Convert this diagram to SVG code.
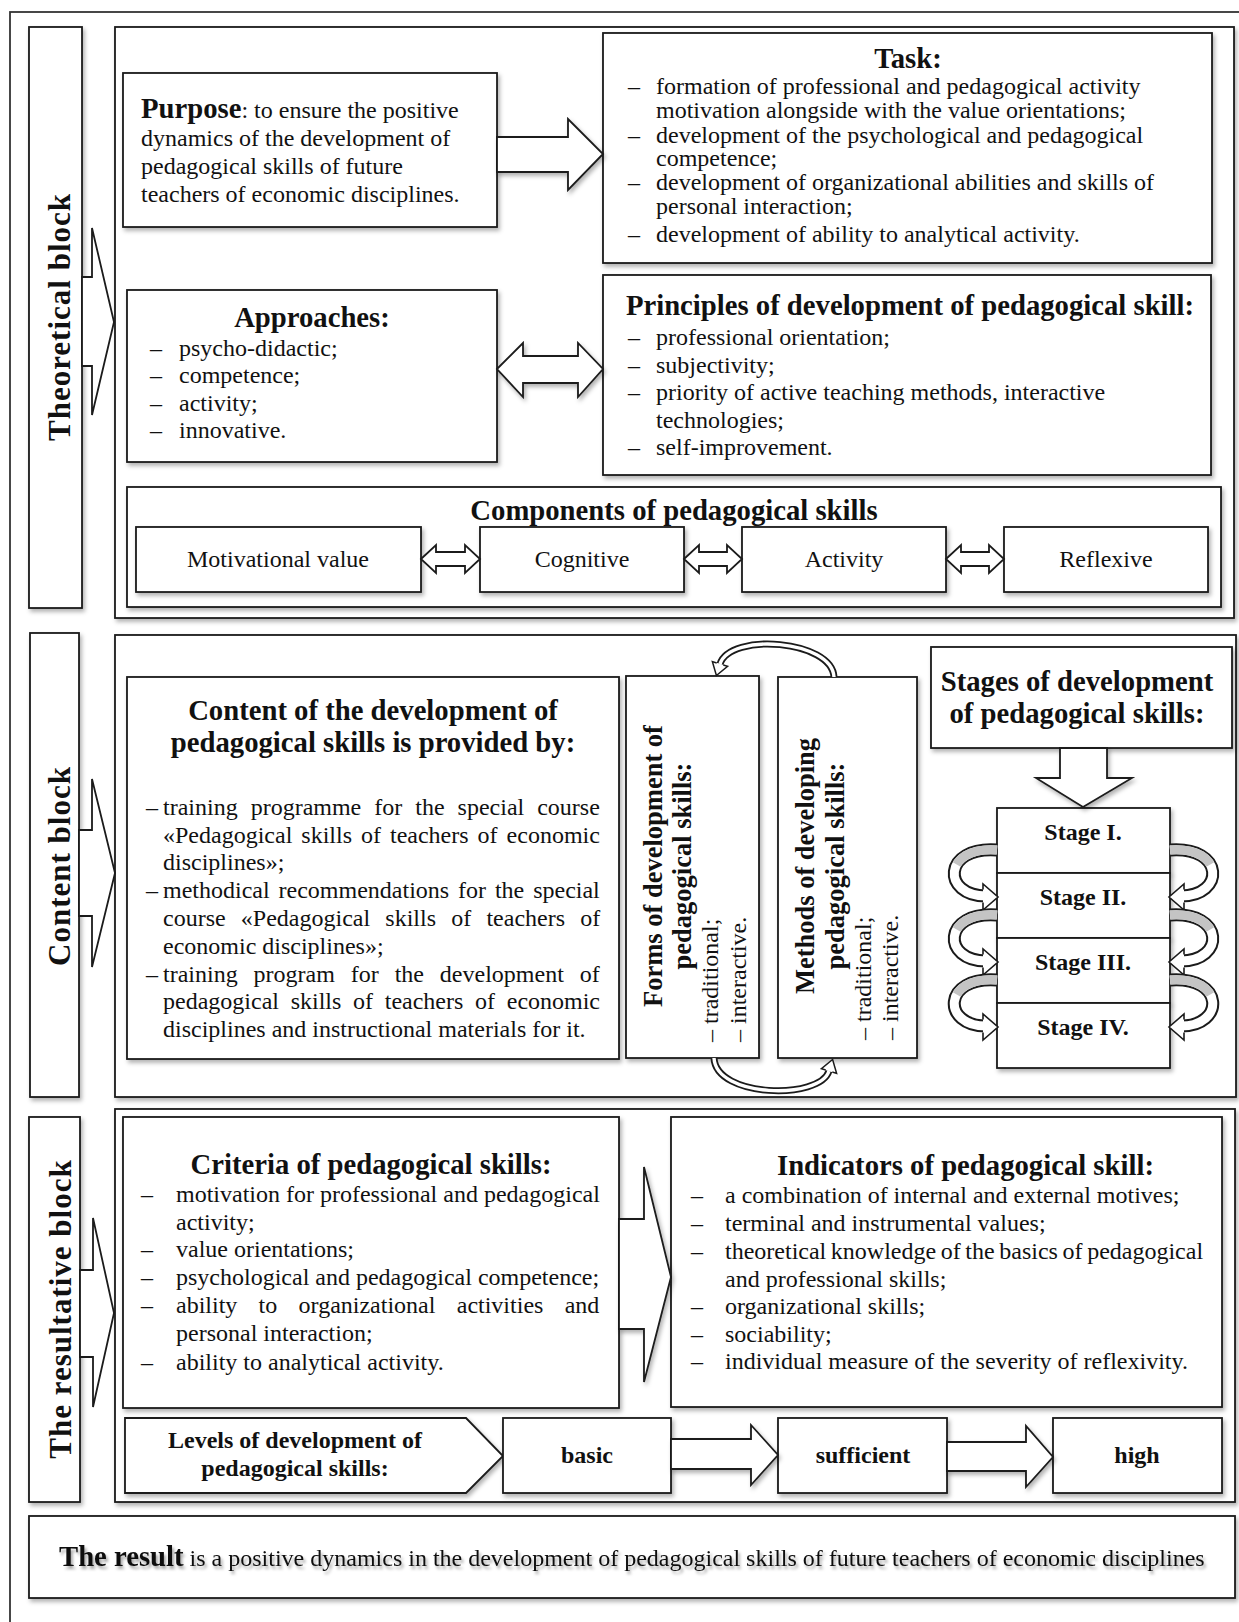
<svg xmlns="http://www.w3.org/2000/svg" width="1239" height="1622" viewBox="0 0 1239 1622">
<defs>
<filter id="ds" x="-10%" y="-10%" width="130%" height="130%"><feDropShadow dx="2" dy="3" stdDeviation="2" flood-color="#000" flood-opacity="0.3"/></filter>
<filter id="ts" x="-5%" y="-30%" width="110%" height="170%"><feDropShadow dx="2" dy="3" stdDeviation="1.6" flood-color="#000" flood-opacity="0.35"/></filter>
<g id="carrow">
<path d="M 997 6 C 942 2 942 52 986 52" fill="none" stroke="#1b1b1b" stroke-width="13"/>
<path d="M 997 6 C 942 2 942 52 986 52" fill="none" stroke="#fff" stroke-width="9"/>
<path d="M 997 6 C 975 4.4 961.8 11.44 956.7 20.46" fill="none" stroke="#c4c4c4" stroke-width="9"/>
<path d="M 983 45.5 L 983 40 L 998 53 L 983 66 L 983 58.5" fill="#fff" stroke="#1b1b1b" stroke-width="1.6" stroke-linejoin="miter"/>
</g>
</defs>
<style>
.b { fill:#fff; stroke:#1b1b1b; stroke-width:1.8; }
.sh { filter:url(#ds); }
text { font-family:"Liberation Serif","Times New Roman",serif; fill:#111; font-size:24px; }
.h { font-size:28.7px; font-weight:bold; }
.hb { font-weight:bold; }
.lab { font-size:31px; font-weight:bold; letter-spacing:1px; }
.vh { font-size:26.5px; font-weight:bold; }
.c { text-anchor:middle; }
</style>
<rect x="0" y="0" width="1239" height="1622" fill="#fff"/>
<rect x="10" y="12" width="1250" height="1640" fill="none" stroke="#333" stroke-width="1.8"/>

<!-- Theoretical block -->
<g id="theoretical-label">
<rect class="b sh" x="29" y="27" width="53" height="581"/>
<text class="lab c" transform="translate(70,317) rotate(-90)">Theoretical block</text>
</g>
<g id="theoretical-container"><rect class="b sh" x="115" y="27" width="1119" height="591"/></g>

<g id="purpose">
<rect class="b sh" x="123" y="73" width="374" height="154"/>
<text x="141" y="118"><tspan class="h">Purpose</tspan>: to ensure the positive</text>
<text x="141" y="146">dynamics of the development of</text>
<text x="141" y="174">pedagogical skills of future</text>
<text x="141" y="202">teachers of economic disciplines.</text>
</g>

<g id="task">
<rect class="b sh" x="603" y="33" width="609" height="230"/>
<text class="h c" x="908" y="68">Task:</text>
<text><tspan x="628" y="94">–</tspan><tspan x="656" y="94">formation of professional and pedagogical activity</tspan></text>
<text x="656" y="118">motivation alongside with the value orientations;</text>
<text><tspan x="628" y="142.5">–</tspan><tspan x="656" y="142.5">development of the psychological and pedagogical</tspan></text>
<text x="656" y="166">competence;</text>
<text><tspan x="628" y="190">–</tspan><tspan x="656" y="190">development of organizational abilities and skills of</tspan></text>
<text x="656" y="214">personal interaction;</text>
<text><tspan x="628" y="242">–</tspan><tspan x="656" y="242">development of ability to analytical activity.</tspan></text>
</g>

<g id="approaches">
<rect class="b sh" x="127" y="290" width="370" height="172"/>
<text class="h c" x="312" y="327">Approaches:</text>
<text><tspan x="150" y="356">–</tspan><tspan x="179" y="356">psycho-didactic;</tspan></text>
<text><tspan x="150" y="383">–</tspan><tspan x="179" y="383">competence;</tspan></text>
<text><tspan x="150" y="411">–</tspan><tspan x="179" y="411">activity;</tspan></text>
<text><tspan x="150" y="438">–</tspan><tspan x="179" y="438">innovative.</tspan></text>
</g>

<g id="principles">
<rect class="b sh" x="603" y="275" width="608" height="200"/>
<text class="h c" x="910" y="315">Principles of development of pedagogical skill:</text>
<text><tspan x="628" y="345">–</tspan><tspan x="656" y="345">professional orientation;</tspan></text>
<text><tspan x="628" y="373">–</tspan><tspan x="656" y="373">subjectivity;</tspan></text>
<text><tspan x="628" y="400">–</tspan><tspan x="656" y="400">priority of active teaching methods, interactive</tspan></text>
<text x="656" y="428">technologies;</text>
<text><tspan x="628" y="455">–</tspan><tspan x="656" y="455">self-improvement.</tspan></text>
</g>

<g id="components">
<rect class="b sh" x="127" y="487" width="1094" height="120"/>
<text class="h c" x="674" y="520">Components of pedagogical skills</text>
</g>
<g id="comp-motivational"><rect class="b sh" x="136" y="527" width="285" height="65"/><text class="c" x="278" y="567">Motivational value</text></g>
<g id="comp-cognitive"><rect class="b sh" x="480" y="527" width="204" height="65"/><text class="c" x="582" y="567">Cognitive</text></g>
<g id="comp-activity"><rect class="b sh" x="742" y="527" width="204" height="65"/><text class="c" x="844" y="567">Activity</text></g>
<g id="comp-reflexive"><rect class="b sh" x="1004" y="527" width="204" height="65"/><text class="c" x="1106" y="567">Reflexive</text></g>

<!-- Content block -->
<g id="content-label">
<rect class="b sh" x="30" y="633" width="49" height="464"/>
<text class="lab c" transform="translate(70,866) rotate(-90)">Content block</text>
</g>
<g id="content-container"><rect class="b sh" x="115" y="635" width="1121" height="462"/></g>

<g id="content-provided">
<rect class="b sh" x="127" y="677" width="492" height="382"/>
<text class="h c" x="373" y="720">Content of the development of</text>
<text class="h c" x="373" y="752">pedagogical skills is provided by:</text>
<text><tspan x="146" y="815">–</tspan><tspan x="163" y="815" style="word-spacing:7px">training programme for the special course</tspan></text>
<text x="163" y="843" style="word-spacing:3px">«Pedagogical skills of teachers of economic</text>
<text x="163" y="870">disciplines»;</text>
<text><tspan x="146" y="898">–</tspan><tspan x="163" y="898" style="word-spacing:2.9px">methodical recommendations for the special</tspan></text>
<text x="163" y="926" style="word-spacing:9.2px">course «Pedagogical skills of teachers of</text>
<text x="163" y="954">economic disciplines»;</text>
<text><tspan x="146" y="982">–</tspan><tspan x="163" y="982" style="word-spacing:9.9px">training program for the development of</tspan></text>
<text x="163" y="1009" style="word-spacing:5.7px">pedagogical skills of teachers of economic</text>
<text x="163" y="1037">disciplines and instructional materials for it.</text>
</g>

<g id="forms">
<rect class="b sh" x="626" y="676" width="133" height="382"/>
<g transform="translate(0,866) rotate(-90)">
<text class="vh c" x="0" y="662">Forms of development of</text>
<text class="vh c" x="0" y="691">pedagogical skills:</text>
<text x="-176" y="718">– traditional;</text>
<text x="-176" y="746">– interactive.</text>
</g>
</g>

<g id="methods">
<rect class="b sh" x="778" y="677" width="139" height="381"/>
<g transform="translate(0,866) rotate(-90)">
<text class="vh c" x="0" y="814">Methods of developing</text>
<text class="vh c" x="0" y="844">pedagogical skills:</text>
<text x="-174" y="871">– traditional;</text>
<text x="-174" y="898">– interactive.</text>
</g>
</g>

<g id="stages-title">
<rect class="b sh" x="931" y="647" width="301" height="101"/>
<text class="h c" x="1077" y="691">Stages of development</text>
<text class="h c" x="1077" y="723">of pedagogical skills:</text>
</g>
<g id="stage-1"><rect class="b sh" x="997" y="808" width="173" height="65"/><text class="hb c" x="1083" y="840">Stage I.</text></g>
<g id="stage-2"><rect class="b sh" x="997" y="873" width="173" height="65"/><text class="hb c" x="1083" y="905">Stage II.</text></g>
<g id="stage-3"><rect class="b sh" x="997" y="938" width="173" height="65"/><text class="hb c" x="1083" y="970">Stage III.</text></g>
<g id="stage-4"><rect class="b sh" x="997" y="1003" width="173" height="65"/><text class="hb c" x="1083" y="1035">Stage IV.</text></g>

<!-- Resultative block -->
<g id="resultative-label">
<rect class="b sh" x="29" y="1117" width="51" height="385"/>
<text class="lab c" transform="translate(71,1309) rotate(-90)">The resultative block</text>
</g>
<g id="resultative-container"><rect class="b sh" x="115" y="1109" width="1120" height="393"/></g>

<g id="criteria">
<rect class="b sh" x="123" y="1117" width="496" height="291"/>
<text class="h c" x="371" y="1174">Criteria of pedagogical skills:</text>
<text><tspan x="141" y="1202">–</tspan><tspan x="176" y="1202">motivation for professional and pedagogical</tspan></text>
<text x="176" y="1230">activity;</text>
<text><tspan x="141" y="1257">–</tspan><tspan x="176" y="1257">value orientations;</tspan></text>
<text><tspan x="141" y="1285">–</tspan><tspan x="176" y="1285">psychological and pedagogical competence;</tspan></text>
<text><tspan x="141" y="1313">–</tspan><tspan x="176" y="1313" style="word-spacing:15.3px">ability to organizational activities and</tspan></text>
<text x="176" y="1341">personal interaction;</text>
<text><tspan x="141" y="1370">–</tspan><tspan x="176" y="1370">ability to analytical activity.</tspan></text>
</g>

<g id="indicators">
<rect class="b sh" x="671" y="1117" width="551" height="290"/>
<text class="h" x="777" y="1175">Indicators of pedagogical skill:</text>
<text><tspan x="691" y="1203">–</tspan><tspan x="725" y="1203">a combination of internal and external motives;</tspan></text>
<text><tspan x="691" y="1231">–</tspan><tspan x="725" y="1231">terminal and instrumental values;</tspan></text>
<text><tspan x="691" y="1259">–</tspan><tspan x="725" y="1259" style="word-spacing:-1.4px">theoretical knowledge of the basics of pedagogical</tspan></text>
<text x="725" y="1287">and professional skills;</text>
<text><tspan x="691" y="1314">–</tspan><tspan x="725" y="1314">organizational skills;</tspan></text>
<text><tspan x="691" y="1342">–</tspan><tspan x="725" y="1342">sociability;</tspan></text>
<text><tspan x="691" y="1369">–</tspan><tspan x="725" y="1369">individual measure of the severity of reflexivity.</tspan></text>
</g>

<g id="levels">
<polygon class="b sh" points="125,1418 466,1418 503,1456 466,1493 125,1493"/>
<text class="hb c" x="295" y="1448">Levels of development of</text>
<text class="hb c" x="295" y="1476">pedagogical skills:</text>
</g>
<g id="level-basic"><rect class="b sh" x="503" y="1418" width="168" height="75"/><text class="hb c" x="587" y="1463">basic</text></g>
<g id="level-sufficient"><rect class="b sh" x="778" y="1418" width="169" height="75"/><text class="hb c" x="863" y="1463">sufficient</text></g>
<g id="level-high"><rect class="b sh" x="1053" y="1418" width="169" height="75"/><text class="hb c" x="1137" y="1463">high</text></g>

<g id="result">
<rect class="b sh" x="29" y="1516" width="1206" height="82"/>
<text x="59" y="1566" filter="url(#ts)"><tspan class="h">The result</tspan> is a positive dynamics in the development of pedagogical skills of future teachers of economic disciplines</text>
</g>

<!-- Connectors -->
<g id="connectors">
<polygon class="b" points="82,277 92,277 92,228 114,322 92,415 92,366 82,366"/>
<polygon class="b" points="79,830 92,830 92,779 115,873 92,967 92,916 79,916"/>
<polygon class="b" points="80,1270 93,1270 93,1218 114,1313 93,1407 93,1357 80,1357"/>
<polygon class="b sh" points="497,137 568,137 568,119 603,154 568,190 568,172 497,172"/>
<polygon class="b sh" points="497,369 523,343 523,356 578,356 578,343 603,369 578,397 578,383 523,383 523,397"/>
<polygon class="b" points="421,559 436,545 436,552 465,552 465,545 480,559 465,573 465,566 436,566 436,573"/>
<polygon class="b" points="684,559 699,545 699,552 727,552 727,545 742,559 727,573 727,566 699,566 699,573"/>
<polygon class="b" points="946,559 961,545 961,552 989,552 989,545 1004,559 989,573 989,566 961,566 961,573"/>
<polygon class="b sh" points="619,1219 644,1219 644,1167 671,1277 644,1382 644,1329 619,1329"/>
<polygon class="b sh" points="671,1439 751,1439 751,1425 778,1455 751,1485 751,1469 671,1469"/>
<polygon class="b sh" points="947,1442 1026,1442 1026,1426 1053,1457 1026,1487 1026,1471 947,1471"/>
<polygon class="b sh" points="1060,748 1107,748 1107,778 1132,778 1083,807 1036,778 1060,778"/>
<path d="M 834 677 C 832 640 730 632 720 664" fill="none" stroke="#1b1b1b" stroke-width="7"/>
<path d="M 834 677 C 832 640 730 632 720 664" fill="none" stroke="#fff" stroke-width="3.4"/>
<path d="M 723.3 665 L 727.6 666.4 L 716.4 675.5 L 712.4 661.6 L 716.7 663" fill="#fff" stroke="#1b1b1b" stroke-width="1.5"/>
<path d="M 714 1058 C 716 1098 820 1100 829 1071" fill="none" stroke="#1b1b1b" stroke-width="7"/>
<path d="M 714 1058 C 716 1098 820 1100 829 1071" fill="none" stroke="#fff" stroke-width="3.4"/>
<path d="M 832.3 1072 L 836.6 1073.4 L 832.6 1059.5 L 821.4 1068.6 L 825.7 1070" fill="#fff" stroke="#1b1b1b" stroke-width="1.5"/>
<use href="#carrow" transform="translate(0,844)"/>
<use href="#carrow" transform="translate(0,909)"/>
<use href="#carrow" transform="translate(0,974)"/>
<use href="#carrow" transform="matrix(-1 0 0 1 2167 844)"/>
<use href="#carrow" transform="matrix(-1 0 0 1 2167 909)"/>
<use href="#carrow" transform="matrix(-1 0 0 1 2167 974)"/>
</g>
</svg>
